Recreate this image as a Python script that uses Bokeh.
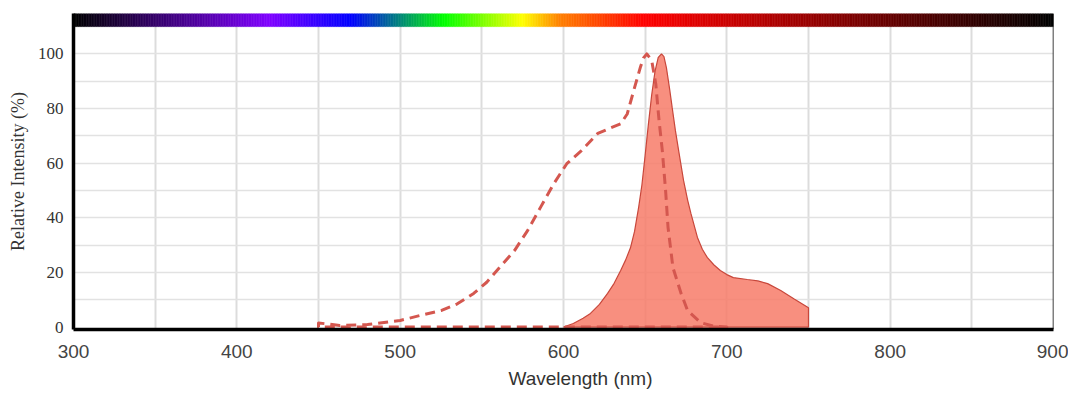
import numpy as np
from bokeh.plotting import figure
from bokeh.models import FixedTicker, Span, Range1d, ColumnDataSource, Title
from bokeh.embed import file_html
from bokeh.resources import INLINE

# Excitation spectrum (dashed)
ex_wl = [450, 463, 480, 500, 512, 525, 535, 545, 553, 561, 570, 578, 586, 594, 602,
         611, 621, 628, 635, 639, 643, 647, 649, 651, 654, 656.5, 658.5, 660.5, 662.5,
         664, 667, 672, 676, 684, 692, 700]
ex_val = [1.5, 0.6, 0.9, 2.4, 4.2, 6.0, 8.5, 12.3, 16.4, 21.9, 28.0, 35.3, 43.9, 52.4, 59.8,
          64.6, 70.9, 72.7, 74.4, 78.0, 86.6, 95.0, 98.5, 100.0, 97.6, 89.0, 75.6, 64.6, 50.0,
          36.5, 21.8, 12.3, 6.0, 1.6, 0.3, 0.0]

# Emission spectrum (filled)
em_wl = [600, 606, 612, 616.5, 622, 627, 631, 635, 638, 641, 643.5, 646, 648, 650, 652,
         654, 656, 658, 660, 661.5, 663, 665, 666.5, 668.5, 670.5, 673.5, 676, 678, 682,
         685, 688, 692, 696, 700, 704, 712.5, 719, 725, 733, 741, 750]
em_val = [0.0, 1.3, 3.2, 5.0, 8.3, 12.3, 16.0, 20.7, 24.5, 29.0, 35.0, 43.8, 52.0, 63.0, 74.4,
          85.0, 93.5, 98.7, 100.0, 99.0, 95.0, 87.0, 80.5, 72.0, 64.6, 53.7, 46.5, 41.6, 32.8,
          28.5, 25.5, 22.8, 20.7, 19.2, 18.1, 17.4, 16.9, 15.9, 13.4, 10.4, 7.1]

x_ticks = [300, 400, 500, 600, 700, 800, 900]
y_ticks = [0, 20, 40, 60, 80, 100]

# Colour bar stops (wavelength, colour)
stop_wl = [300, 420, 470, 527, 575, 598, 650, 900]
stop_col = ["#000000", "#8000ff", "#0000ff", "#00ff00", "#ffff00", "#ff8000", "#ff0000", "#000000"]

p = figure(width=1068, height=401, x_range=Range1d(300, 900), y_range=Range1d(-0.9, 114.8),
           output_backend="svg", toolbar_location=None,
           min_border_left=73, min_border_right=15, min_border_top=13, min_border_bottom=72)
p.outline_line_color = None
p.background_fill_color = "white"
p.border_fill_color = "white"

# grids
p.xgrid.ticker = FixedTicker(ticks=[350, 400, 450, 500, 550, 600, 650, 700, 750, 800, 850])
p.ygrid.ticker = FixedTicker(ticks=[10, 20, 30, 40, 50, 60, 70, 80, 90, 100])
p.xgrid.grid_line_color = "#dcdcdc"
p.xgrid.grid_line_width = 2
p.ygrid.grid_line_color = "#e2e2e2"
p.ygrid.grid_line_width = 1.5

# axes
for ax in (p.xaxis, p.yaxis):
    ax.axis_line_color = "black"
    ax.axis_line_width = 3.5
    ax.major_tick_line_color = None
    ax.minor_tick_line_color = None
    ax.major_tick_out = 0
    ax.major_tick_in = 0
    ax.axis_label_text_font_style = "normal"

p.xaxis.ticker = FixedTicker(ticks=x_ticks)
p.xaxis.major_label_text_font = "Liberation Sans"
p.xaxis.major_label_text_font_size = "19px"
p.xaxis.major_label_text_color = "#444444"
p.xaxis.major_label_standoff = 15

p.yaxis.ticker = FixedTicker(ticks=y_ticks)
p.yaxis.major_label_text_font = "Liberation Serif"
p.yaxis.major_label_text_font_size = "17px"
p.yaxis.major_label_text_color = "#333333"
p.yaxis.major_label_standoff = 10
p.yaxis.axis_label = "Relative Intensity (%)"
p.yaxis.axis_label_text_font = "Liberation Serif"
p.yaxis.axis_label_text_font_size = "18px"
p.yaxis.axis_label_text_color = "#333333"
p.yaxis.axis_label_standoff = 7

# x axis title (slightly right of the plot centre, as in the original)
p.add_layout(Title(text="Wavelength (nm)", align="left", offset=435, standoff=10,
                   text_font="Liberation Sans", text_font_size="19px",
                   text_font_style="normal", text_color="#333333"), "below")

# emission filled area
p.patch(x=em_wl + [em_wl[-1]], y=em_val + [0], fill_color="#f77b68", fill_alpha=0.85,
        line_color="#c8473b", line_width=1.2)

# excitation dashed outline
p.patch(x=[ex_wl[0]] + ex_wl, y=[0] + ex_val, fill_alpha=0, line_color="#d4574f",
        line_width=3, line_dash="10 6", line_join="round")

# colour bar on top
wl = np.arange(300, 900, 1.0)
def hex2rgb(h):
    return [int(h[i:i + 2], 16) for i in (1, 3, 5)]
rgb = np.array([hex2rgb(c) for c in stop_col], dtype=float)
r = np.interp(wl + 0.5, stop_wl, rgb[:, 0])
g = np.interp(wl + 0.5, stop_wl, rgb[:, 1])
b = np.interp(wl + 0.5, stop_wl, rgb[:, 2])
cols = ["#%02x%02x%02x" % (int(round(a)), int(round(bb)), int(round(c))) for a, bb, c in zip(r, g, b)]
src = ColumnDataSource(dict(left=wl, right=wl + 1.05, color=cols))
p.quad(left="left", right="right", bottom=110, top=114.8, fill_color="color",
       line_color="color", line_width=0.5, source=src)

p.add_layout(Span(location=900, dimension="height", line_color="black", line_width=1.5))

open("out.html", "w").write(file_html(p, INLINE))
